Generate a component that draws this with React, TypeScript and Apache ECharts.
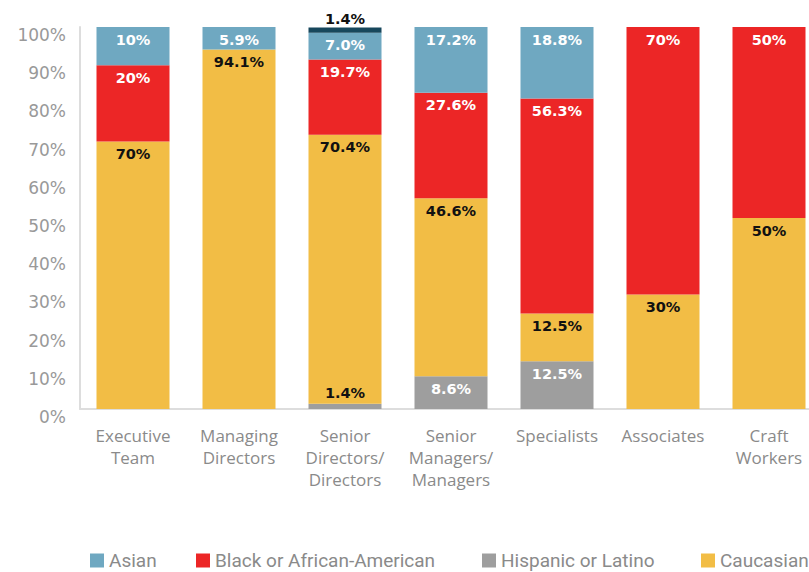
import React, { useEffect, useRef } from "react";
import * as echarts from "echarts";

const categories = [
  "Executive\nTeam",
  "Managing\nDirectors",
  "Senior\nDirectors/\nDirectors",
  "Senior\nManagers/\nManagers",
  "Specialists",
  "Associates",
  "Craft\nWorkers",
];

// values as printed labels (percent)
const hispanic: (string | null)[] = [null, null, "1.4", "8.6", "12.5", null, null];
const caucasian: (string | null)[] = ["70", "94.1", "70.4", "46.6", "12.5", "30", "50"];
const black: (string | null)[] = ["20", null, "19.7", "27.6", "56.3", "70", "50"];
const asian: (string | null)[] = ["10", "5.9", "7.0", "17.2", "18.8", null, null];
const other: (string | null)[] = [null, null, "1.4", null, null, null, null];

const yTicks = [0, 10, 20, 30, 40, 50, 60, 70, 80, 90, 100];

const COLORS = {
  asian: "#6fa8c1",
  black: "#ec2626",
  hispanic: "#9e9e9e",
  caucasian: "#f2bd45",
  other: "#17475c",
};

const LABEL_FONT = "DejaVu Sans";
const AXIS_FONT = "Open Sans";

export default function App() {
  const ref = useRef<HTMLDivElement>(null);

  useEffect(() => {
    if (!ref.current) return;
    const chart = echarts.init(ref.current, undefined, { renderer: "svg" });

    const mkSeries = (
      name: string,
      arr: (string | null)[],
      color: string,
      textColor: string,
      overrides: Record<number, any> = {}
    ) => ({
      name,
      type: "bar",
      stack: "total",
      barWidth: 73,
      itemStyle: { color },
      data: arr.map((v, i) => {
        const item: any = { value: v === null ? 0 : Number(v) };
        if (overrides[i]) item.label = overrides[i];
        return item;
      }),
      label: {
        show: true,
        position: "insideTop",
        distance: 5,
        color: textColor,
        fontFamily: LABEL_FONT,
        fontWeight: "bold",
        fontSize: 14.5,
        formatter: (p: any) => (arr[p.dataIndex] === null ? "" : `${arr[p.dataIndex]}%`),
      },
    });

    const legendBase = {
      top: 546,
      itemWidth: 14,
      itemHeight: 14,
      icon: "rect",
      textStyle: { color: "#8a8a8a", fontSize: 19, lineHeight: 16, fontFamily: "Roboto" },
    };

    chart.setOption({
      animation: false,
      backgroundColor: "#fff",
      grid: { left: 80, top: 27, height: 382, width: 742, outerBoundsMode: "none", containLabel: false },
      legend: [
        { ...legendBase, left: 85, data: ["Asian"] },
        { ...legendBase, left: 191, data: ["Black or African-American"] },
        { ...legendBase, left: 477, data: ["Hispanic or Latino"] },
        { ...legendBase, left: 696, data: ["Caucasian"] },
      ],
      xAxis: {
        type: "category",
        data: categories,
        axisLine: { show: true, lineStyle: { color: "#dddddd", width: 2 } },
        axisTick: { show: false },
        axisLabel: {
          color: "#8a8a8a",
          fontSize: 17,
          lineHeight: 22,
          fontFamily: AXIS_FONT,
          margin: 15,
          interval: 0,
        },
      },
      yAxis: {
        type: "value",
        min: yTicks[0],
        max: yTicks[yTicks.length - 1],
        interval: 10,
        axisLine: { show: true, lineStyle: { color: "#dddddd", width: 2 } },
        axisTick: { show: false },
        splitLine: { show: false },
        axisLabel: {
          color: "#999999",
          fontSize: 17,
          lineHeight: 16,
          verticalAlign: "top",
          fontFamily: "DejaVu Sans",
          margin: 14,
          formatter: (v: number) => `${v}%`,
        },
      },
      series: [
        mkSeries("Hispanic or Latino", hispanic, COLORS.hispanic, "#ffffff", {
          2: { position: "top", distance: 3, color: "#111111" },
        }),
        mkSeries("Caucasian", caucasian, COLORS.caucasian, "#111111"),
        mkSeries("Black or African-American", black, COLORS.black, "#ffffff"),
        mkSeries("Asian", asian, COLORS.asian, "#ffffff"),
        mkSeries("Two or More Races", other, COLORS.other, "#111111", {
          2: { position: "top", distance: 1, color: "#111111" },
        }),
      ],
    });

    return () => chart.dispose();
  }, []);

  return (
    <div
      ref={ref}
      style={{ position: "fixed", left: 0, top: 0, width: 809, height: 572 }}
    />
  );
}
